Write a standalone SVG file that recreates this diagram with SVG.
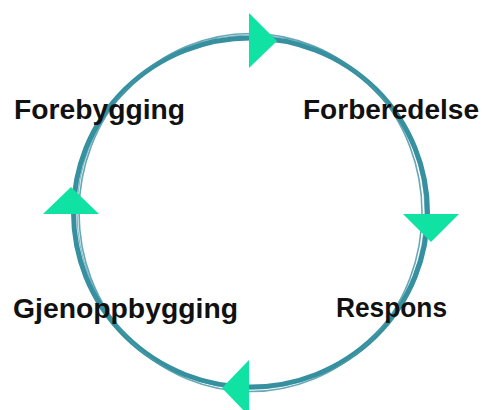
<svg xmlns="http://www.w3.org/2000/svg" width="483" height="410" viewBox="0 0 483 410">
<style>
.lbl{font-family:"Liberation Sans",Arial,sans-serif;font-weight:bold;font-size:27px;fill:#111}
.tri{fill:#0fe2a3}
</style>
<rect width="483" height="410" fill="#fff"/>
<g id="connectors">
<ellipse cx="250.5" cy="212.5" rx="177" ry="174.5" fill="none" stroke="#36909f" stroke-width="5"/>
<ellipse cx="250.5" cy="212.5" rx="171.5" ry="179" fill="none" stroke="#4c9aa8" stroke-width="1.6" opacity="0.85"/>
<ellipse cx="251" cy="212" rx="174" ry="177" fill="none" stroke="#36909f" stroke-width="1.2" opacity="0.6"/>
</g>
<g id="arrow-top"><polygon class="tri" points="249,13 249,68 277,41"/></g>
<g id="arrow-right"><polygon class="tri" points="403,214 459,214 431,242"/></g>
<g id="arrow-bottom"><polygon class="tri" points="249,360 249,416 222,388"/></g>
<g id="arrow-left"><polygon class="tri" points="43,214 99,214 71,187"/></g>
<g id="node-forebygging"><text class="lbl" x="14" y="119" textLength="171" lengthAdjust="spacingAndGlyphs">Forebygging</text></g>
<g id="node-forberedelse"><text class="lbl" x="303" y="119" textLength="176" lengthAdjust="spacingAndGlyphs">Forberedelse</text></g>
<g id="node-gjenoppbygging"><text class="lbl" x="13" y="318" textLength="225" lengthAdjust="spacingAndGlyphs">Gjenoppbygging</text></g>
<g id="node-respons"><text class="lbl" x="336" y="317" textLength="111" lengthAdjust="spacingAndGlyphs">Respons</text></g>
</svg>
